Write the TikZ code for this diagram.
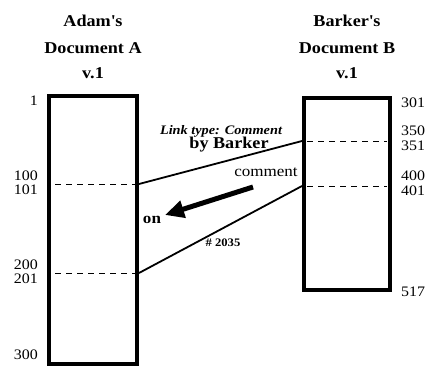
\documentclass[tikz,border=0pt]{standalone}
\usepackage{fontspec}
\setmainfont{Liberation Serif}[FakeStretch=1.1]
\usetikzlibrary{arrows.meta}
\tikzset{
  doc/.style={draw, line width=4pt, inner sep=0pt},
  title/.style={font=\fontsize{16.5}{16.5}\selectfont\bfseries, inner sep=0pt},
  num/.style={font=\fontsize{14.5}{14.5}\selectfont, inner sep=0pt},
  numL/.style={num, anchor=east},
  numR/.style={num, anchor=west},
  sect/.style={dashed, dash pattern=on 6pt off 5pt, line width=0.8pt},
  link/.style={line width=1.8pt},
  lbl/.style={inner sep=0pt}
}
\begin{document}
\begin{tikzpicture}[x=1pt,y=-1pt]
\useasboundingbox (0,0) rectangle (440,380);
% titles
\node[title] (tA1) at (93,21) {Adam\textquotesingle s};
\node[title] (tA2) at (93,48) {Document A};
\node[title] (tA3) at (93,73) {v.1};
\node[title] (tB1) at (347,21) {Barker\textquotesingle s};
\node[title] (tB2) at (347,48) {Document B};
\node[title] (tB3) at (347,73) {v.1};
% boxes
\node[doc, minimum width=88pt, minimum height=268pt] (A) at (93,230) {};
\node[doc, minimum width=86pt, minimum height=192pt] (B) at (347,194) {};
% section dashes
\draw[sect] (55,184) -- (135,184);
\draw[sect] (55,273) -- (135,273);
\draw[sect] (307,141) -- (387,141);
\draw[sect] (307,186) -- (387,186);
% left numbers
\node[numL] (n1) at (38,101) {1};
\node[numL] (n100) at (38,176) {100};
\node[numL] (n101) at (38,189.5) {101};
\node[numL] (n200) at (38,265) {200};
\node[numL] (n201) at (38,279) {201};
\node[numL] (n300) at (38,355) {300};
% right numbers
\node[numR] (n301) at (401,103) {301};
\node[numR] (n350) at (401,131) {350};
\node[numR] (n351) at (401,146) {351};
\node[numR] (n400) at (401,176) {400};
\node[numR] (n401) at (401,191) {401};
\node[numR] (n517) at (401,292) {517};
% link endpoints
\coordinate (a1) at (A.east |- 0,184);
\coordinate (a2) at (A.east |- 0,273);
\coordinate (b1) at (B.west |- 0,141);
\coordinate (b2) at (B.west |- 0,186);
\draw[link] (a1) -- (b1);
\draw[link] (a2) -- (b2);
% labels
\node[lbl, font=\fontsize{13}{13}\selectfont\bfseries\itshape] (lt) at (221,131) {Link type: Comment};
\node[lbl, font=\fontsize{16.5}{16.5}\selectfont\bfseries] (by) at (229,145) {by Barker};
\node[lbl, font=\fontsize{15.5}{15.5}\selectfont] (cm) at (266,172) {comment};
\node[lbl, font=\fontsize{15.5}{15.5}\selectfont\bfseries] (on) at (152,220) {on};
\node[lbl, font=\fontsize{11.5}{11.5}\selectfont\bfseries] (id) at (223,243) {\# 2035};
% arrow
\coordinate (ar0) at (253,187);
\coordinate (ar1) at (165,215);
\draw[line width=5pt, -{Triangle[length=19pt,width=17pt]}] (ar0) -- (ar1);
\end{tikzpicture}
\end{document}
